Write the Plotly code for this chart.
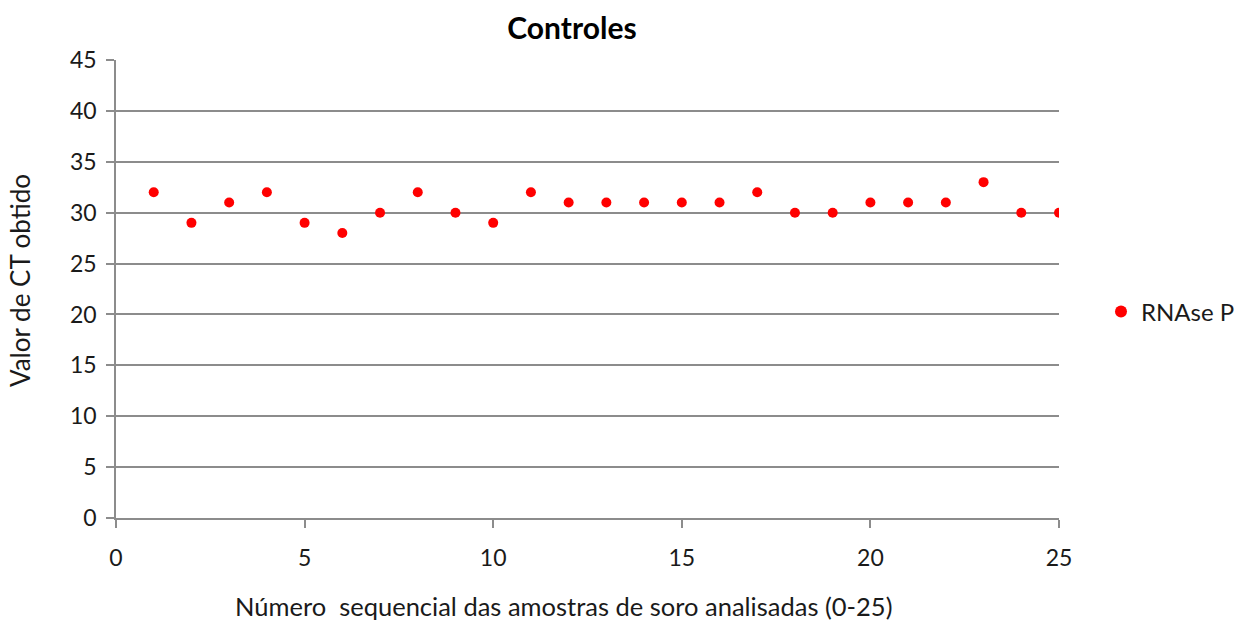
import plotly.graph_objects as go

samples = list(range(1, 26))
ct_values = [32, 29, 31, 32, 29, 28, 30, 32, 30, 29, 32, 31, 31, 31, 31, 31, 32, 30, 30, 31, 31, 31, 33, 30, 30]

FONT = "Lato, 'Open Sans', sans-serif"
GRID = "#8c8c8c"
TXT = "#1a1a1a"

L, R, T, B = 116, 187, 60, 103
PW, PH = 1246 - L - R, 621 - T - B

fig = go.Figure()
fig.add_trace(go.Scatter(
    x=samples, y=ct_values, mode="markers", name="RNAse P",
    marker=dict(color="#ff0000", size=10),
))

fig.update_layout(
    width=1246, height=621,
    margin=dict(l=L, r=R, t=T, b=B, autoexpand=False),
    paper_bgcolor="white", plot_bgcolor="white",
    font=dict(family=FONT, size=23, color=TXT),
    title=dict(text="<b>Controles</b>", x=(572 - L) / PW, xref="paper", xanchor="center",
               y=1 - 28 / 621, yref="container", yanchor="middle",
               font=dict(size=30, family=FONT, color="black")),
    showlegend=True,
    legend=dict(x=(1101 - L) / PW, y=(518 - 312) / PH, xanchor="left", yanchor="middle",
                font=dict(size=24), itemsizing="constant"),
    xaxis=dict(range=[0, 25], dtick=5, tick0=0, showgrid=False, showline=True,
               linecolor=GRID, linewidth=1.5, ticks="outside", ticklen=8, tickcolor=GRID,
               tickwidth=1.5, zeroline=False, ticklabelstandoff=11),
    yaxis=dict(range=[0, 45], dtick=5, tick0=0, showgrid=True, gridcolor=GRID, gridwidth=1.5,
               showline=True, linecolor=GRID, linewidth=1.5, ticks="outside", ticklen=8,
               tickcolor=GRID, tickwidth=1.5, zeroline=False, ticklabelstandoff=5),
    annotations=[
        dict(text="Número  sequencial das amostras de soro analisadas (0-25)",
             xref="paper", yref="paper", x=(563 - L) / PW, y=(518 - 606) / PH,
             xanchor="center", yanchor="middle", showarrow=False,
             font=dict(size=25.5, family=FONT, color=TXT)),
        dict(text="Valor de CT obtido", textangle=-90,
             xref="paper", yref="paper", x=(20 - L) / PW, y=(518 - 281) / PH,
             xanchor="center", yanchor="middle", showarrow=False,
             font=dict(size=26, family=FONT, color=TXT)),
    ],
)

fig.write_html("out.html")
